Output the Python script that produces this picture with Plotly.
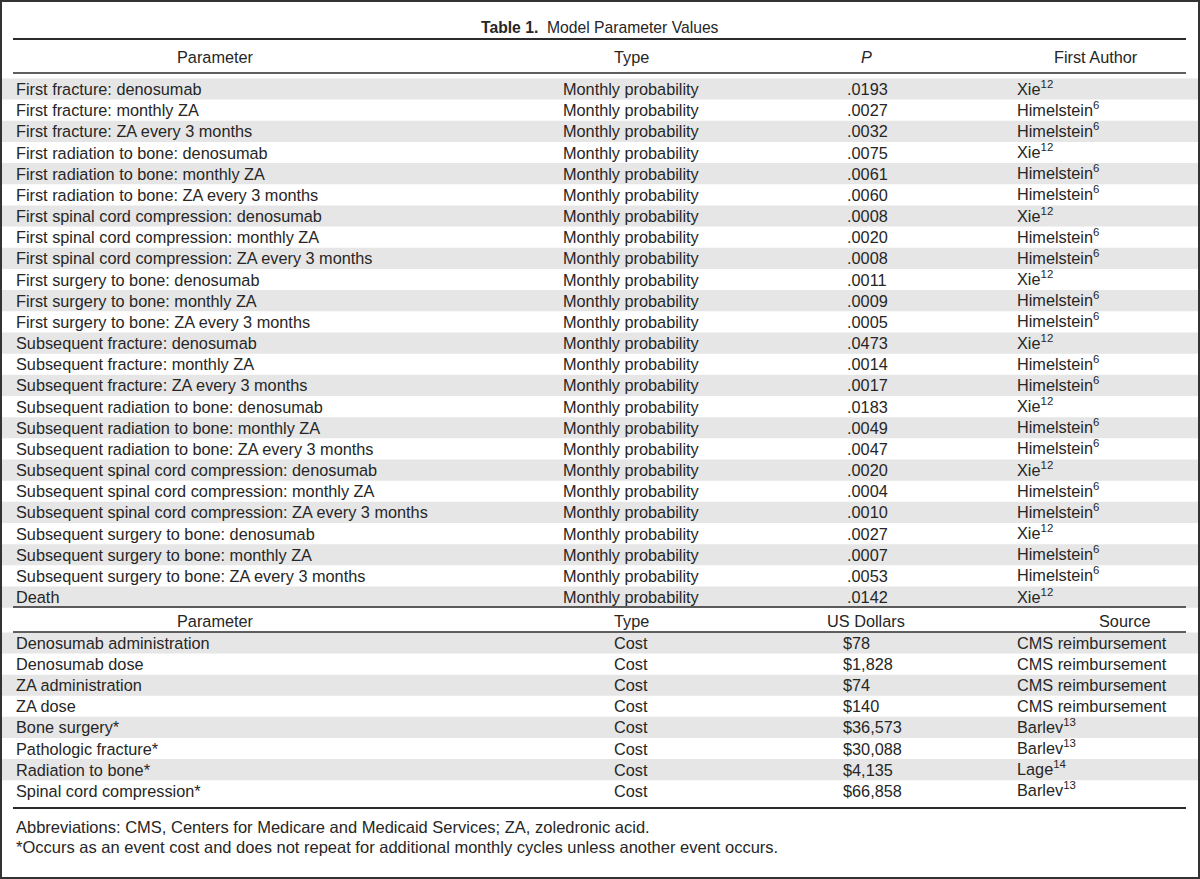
import plotly.graph_objects as go

# ---------------- data ----------------
title_bold = "Table 1."
title_rest = "Model Parameter Values"

header1 = ["Parameter", "Type", "<i>P</i>", "First Author"]
params1 = [
    "First fracture: denosumab",
    "First fracture: monthly ZA",
    "First fracture: ZA every 3 months",
    "First radiation to bone: denosumab",
    "First radiation to bone: monthly ZA",
    "First radiation to bone: ZA every 3 months",
    "First spinal cord compression: denosumab",
    "First spinal cord compression: monthly ZA",
    "First spinal cord compression: ZA every 3 months",
    "First surgery to bone: denosumab",
    "First surgery to bone: monthly ZA",
    "First surgery to bone: ZA every 3 months",
    "Subsequent fracture: denosumab",
    "Subsequent fracture: monthly ZA",
    "Subsequent fracture: ZA every 3 months",
    "Subsequent radiation to bone: denosumab",
    "Subsequent radiation to bone: monthly ZA",
    "Subsequent radiation to bone: ZA every 3 months",
    "Subsequent spinal cord compression: denosumab",
    "Subsequent spinal cord compression: monthly ZA",
    "Subsequent spinal cord compression: ZA every 3 months",
    "Subsequent surgery to bone: denosumab",
    "Subsequent surgery to bone: monthly ZA",
    "Subsequent surgery to bone: ZA every 3 months",
    "Death",
]
types1 = ["Monthly probability"] * len(params1)
pvalues = [".0193", ".0027", ".0032", ".0075", ".0061", ".0060", ".0008", ".0020",
           ".0008", ".0011", ".0009", ".0005", ".0473", ".0014", ".0017", ".0183",
           ".0049", ".0047", ".0020", ".0004", ".0010", ".0027", ".0007", ".0053",
           ".0142"]
authors = ["Xie", "Himelstein", "Himelstein", "Xie", "Himelstein", "Himelstein",
           "Xie", "Himelstein", "Himelstein", "Xie", "Himelstein", "Himelstein",
           "Xie", "Himelstein", "Himelstein", "Xie", "Himelstein", "Himelstein",
           "Xie", "Himelstein", "Himelstein", "Xie", "Himelstein", "Himelstein",
           "Xie"]
author_refs = ["12", "6", "6", "12", "6", "6", "12", "6", "6", "12", "6", "6",
               "12", "6", "6", "12", "6", "6", "12", "6", "6", "12", "6", "6", "12"]

header2 = ["Parameter", "Type", "US Dollars", "Source"]
params2 = ["Denosumab administration", "Denosumab dose", "ZA administration",
           "ZA dose", "Bone surgery*", "Pathologic fracture*", "Radiation to bone*",
           "Spinal cord compression*"]
types2 = ["Cost"] * len(params2)
costs = ["$78", "$1,828", "$74", "$140", "$36,573", "$30,088", "$4,135", "$66,858"]
sources = ["CMS reimbursement", "CMS reimbursement", "CMS reimbursement",
           "CMS reimbursement", "Barlev", "Barlev", "Lage", "Barlev"]
source_refs = ["", "", "", "", "13", "13", "14", "13"]

footnotes = [
    "Abbreviations: CMS, Centers for Medicare and Medicaid Services; ZA, zoledronic acid.",
    "*Occurs as an event cost and does not repeat for additional monthly cycles unless another event occurs.",
]

# ---------------- layout constants ----------------
W, H = 1200, 879
FONT = "Liberation Sans"
TXT = "#262626"
LINE = "#2b2b2b"
STRIPE = "#e6e6e6"
FS = 16.3

x_left, x_right = 13, 1186
col_param = 16
col_type_c = 631
col_val = 845
col_auth = 1017
hdr_centers1 = [215, 631, 866, 1096]
hdr_centers2 = [215, 631, 866, 1125]

y_title = 27
y_line_top = 39
y_hdr1 = 57
y_line_hdr1 = 73
y_row0 = 89
step1 = 21.17
y_line_sec = 607
y_hdr2 = 621
y_line_hdr2 = 632
y_row2_0 = 643
step2 = 21.1
y_line_bot = 808
y_foot = [827, 847]

fig = go.Figure()
shapes = []
ann = []

def text(x, y, s, anchor="left", size=FS, yshift=0):
    ann.append(dict(x=x, y=y, xref="x", yref="y", text=s, showarrow=False,
                    xanchor=anchor, yanchor="middle", borderpad=0, borderwidth=0,
                    yshift=yshift,
                    font=dict(family=FONT, size=size, color=TXT)))

def hline(y, w):
    shapes.append(dict(type="line", xref="x", yref="y", x0=x_left, x1=x_right,
                       y0=y, y1=y, line=dict(color=LINE, width=w)))

def stripe(yc, h):
    shapes.append(dict(type="rect", xref="x", yref="y", x0=2, x1=W - 2,
                       y0=yc - h / 2, y1=yc + h / 2, fillcolor=STRIPE,
                       line=dict(width=0), layer="below"))

def ref_text(a, r):
    return (f"{a}<sup>{r}</sup>", 1.5) if r else (a, 0)

# title
text(W / 2, y_title, f"<b>{title_bold}</b>  {title_rest}", anchor="center", size=15.7)

# section 1
hline(y_line_top, 2)
for s, xc in zip(header1, hdr_centers1):
    text(xc, y_hdr1, s, anchor="center")
hline(y_line_hdr1, 1.5)
for i, (p, t, v, a, r) in enumerate(zip(params1, types1, pvalues, authors, author_refs)):
    y = y_row0 + i * step1
    if i % 2 == 0:
        stripe(y, step1)
    text(col_param, y, p)
    text(col_type_c, y, t, anchor="center")
    text(col_val + 2, y, v)
    s, ys = ref_text(a, r)
    text(col_auth, y, s, yshift=ys)

# section 2
hline(y_line_sec, 1.5)
for s, xc in zip(header2, hdr_centers2):
    text(xc, y_hdr2, s, anchor="center")
hline(y_line_hdr2, 1.5)
for i, (p, t, v, a, r) in enumerate(zip(params2, types2, costs, sources, source_refs)):
    y = y_row2_0 + i * step2
    if i % 2 == 0:
        stripe(y, step2)
    text(col_param, y, p)
    text(col_type_c, y, t, anchor="center")
    text(col_val - 2, y, v)
    s, ys = ref_text(a, r)
    text(col_auth, y, s, yshift=ys)
hline(y_line_bot, 2)

# footnotes
for s, y in zip(footnotes, y_foot):
    text(col_param, y, s, size=16.5)

# outer frame
shapes.append(dict(type="rect", xref="x", yref="y", x0=1, x1=W - 1, y0=1, y1=H - 1,
                   line=dict(color="#333333", width=2), fillcolor="rgba(0,0,0,0)"))

fig.update_layout(
    width=W, height=H, margin=dict(l=0, r=0, t=0, b=0),
    paper_bgcolor="white", plot_bgcolor="white",
    xaxis=dict(range=[0, W], visible=False, fixedrange=True),
    yaxis=dict(range=[H, 0], visible=False, fixedrange=True),
    shapes=shapes, annotations=ann, showlegend=False,
)

fig.write_html("out.html", config={"displayModeBar": False},
               post_script="document.body.style.margin='0';")
